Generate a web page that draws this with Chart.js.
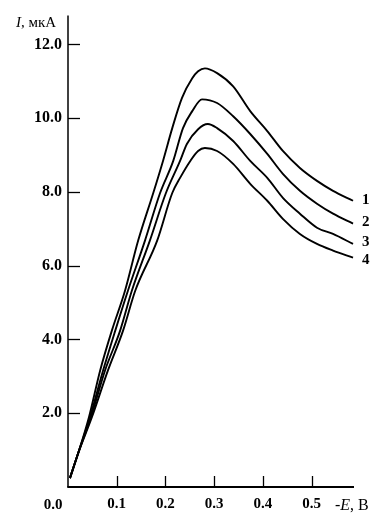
<!DOCTYPE html>
<html>
<head>
<meta charset="utf-8">
<script src="https://cdn.jsdelivr.net/npm/chart.js@4.4.1/dist/chart.umd.min.js"></script>
<style>
  html, body { margin: 0; padding: 0; background: #fff; }
  #wrap { width: 386px; height: 516px; position: relative; }
</style>
</head>
<body>
<div id="wrap"><canvas id="chart"></canvas></div>
<script>
// Potential -E (V) and current I (uA) for each curve
const E1 = [0.004, 0.021, 0.043, 0.066, 0.090, 0.117, 0.144, 0.175, 0.195, 0.214, 0.234, 0.255, 0.267, 0.281, 0.306, 0.339, 0.374, 0.409, 0.441, 0.476, 0.511, 0.544, 0.585];
const I1 = [0.24, 0.92, 1.89, 3.16, 4.24, 5.32, 6.68, 7.97, 8.84, 9.73, 10.55, 11.08, 11.27, 11.35, 11.22, 10.86, 10.19, 9.65, 9.11, 8.65, 8.30, 8.03, 7.76];

const E2 = [0.004, 0.021, 0.045, 0.072, 0.097, 0.123, 0.158, 0.189, 0.216, 0.236, 0.255, 0.275, 0.306, 0.339, 0.374, 0.409, 0.441, 0.476, 0.511, 0.544, 0.585];
const I2 = [0.24, 0.92, 1.89, 3.16, 4.24, 5.32, 6.68, 7.97, 8.84, 9.73, 10.19, 10.51, 10.41, 10.05, 9.57, 9.03, 8.49, 8.03, 7.68, 7.41, 7.14];

const E3 = [0.004, 0.021, 0.047, 0.076, 0.107, 0.131, 0.168, 0.201, 0.230, 0.244, 0.267, 0.287, 0.306, 0.339, 0.374, 0.409, 0.441, 0.476, 0.511, 0.544, 0.585];
const I3 = [0.24, 0.92, 1.89, 3.16, 4.24, 5.32, 6.68, 7.97, 8.84, 9.30, 9.70, 9.84, 9.73, 9.38, 8.84, 8.38, 7.84, 7.41, 7.03, 6.86, 6.59];

const E4 = [0.004, 0.021, 0.049, 0.082, 0.113, 0.138, 0.183, 0.214, 0.230, 0.251, 0.267, 0.281, 0.306, 0.339, 0.374, 0.409, 0.441, 0.476, 0.511, 0.544, 0.585];
const I4 = [0.24, 0.92, 1.89, 3.16, 4.24, 5.32, 6.68, 7.97, 8.38, 8.84, 9.11, 9.19, 9.11, 8.76, 8.22, 7.76, 7.27, 6.86, 6.59, 6.41, 6.22];

const curveNames = ['1', '2', '3', '4'];
const xTicks = [0.1, 0.2, 0.3, 0.4, 0.5];
const yTicks = [2, 4, 6, 8, 10, 12];

const serif = '"Liberation Serif", "Times New Roman", serif';

function toPoints(xs, ys) {
  return xs.map((x, i) => ({ x: x, y: ys[i] }));
}

function makeSet(xs, ys) {
  return {
    data: toPoints(xs, ys),
    borderColor: '#000',
    borderWidth: 1.9,
    pointRadius: 0,
    fill: false,
    cubicInterpolationMode: 'monotone'
  };
}

// axis lines, inward tick marks and the extra texts
const axesPlugin = {
  id: 'axesPlugin',
  afterDraw(chart) {
    const ctx = chart.ctx;
    const a = chart.chartArea;
    const x = chart.scales.x;
    const y = chart.scales.y;

    function seg(x1, y1, x2, y2, w) {
      ctx.lineWidth = w;
      ctx.beginPath();
      ctx.moveTo(x1, y1);
      ctx.lineTo(x2, y2);
      ctx.stroke();
    }

    ctx.save();
    ctx.strokeStyle = '#000';
    ctx.fillStyle = '#000';

    seg(a.left, a.top, a.left, a.bottom, 1.5);
    seg(a.left - 0.75, a.bottom, a.right, a.bottom, 2);

    yTicks.forEach(v => {
      const py = Math.round(y.getPixelForValue(v)) + 0.5;
      seg(a.left, py, a.left + 12, py, 1.3);
    });
    xTicks.forEach(v => {
      const px = Math.round(x.getPixelForValue(v)) + 0.5;
      seg(px, a.bottom, px, a.bottom - 11, 1.3);
    });

    // origin label
    ctx.font = 'bold 15px ' + serif;
    ctx.textAlign = 'center';
    ctx.textBaseline = 'middle';
    ctx.fillText('0.0', a.left - 15, 505);

    // y axis title: I, мкА
    ctx.textAlign = 'left';
    ctx.textBaseline = 'alphabetic';
    let tx = 16;
    ctx.font = 'italic 15px ' + serif;
    ctx.fillText('I', tx, 27);
    tx += ctx.measureText('I').width;
    ctx.font = '15px ' + serif;
    ctx.fillText(', мкА', tx, 27);

    // x axis title: -E, B
    tx = 335;
    ctx.font = '16px ' + serif;
    ctx.fillText('-', tx, 510);
    tx += ctx.measureText('-').width;
    ctx.font = 'italic 16px ' + serif;
    ctx.fillText('E', tx, 510);
    tx += ctx.measureText('E').width;
    ctx.font = '16px ' + serif;
    ctx.fillText(', B', tx, 510);

    // curve numbers at the right ends
    ctx.font = 'bold 15px ' + serif;
    ctx.textBaseline = 'middle';
    const dy = [-1, -2, -2, 3];
    chart.data.datasets.forEach((ds, i) => {
      const pts = chart.getDatasetMeta(i).data;
      const last = pts[pts.length - 1];
      ctx.fillText(curveNames[i], last.x + 9, last.y + dy[i]);
    });

    ctx.restore();
  }
};

new Chart(document.getElementById('chart'), {
  type: 'line',
  data: {
    datasets: [makeSet(E1, I1), makeSet(E2, I2), makeSet(E3, I3), makeSet(E4, I4)]
  },
  plugins: [axesPlugin],
  options: {
    responsive: true,
    maintainAspectRatio: false,
    animation: false,
    layout: { padding: { top: 14, right: 32, left: 0, bottom: 0 } },
    plugins: {
      legend: { display: false },
      tooltip: { enabled: false }
    },
    scales: {
      x: {
        type: 'linear',
        min: 0,
        max: 0.587,
        grid: { display: false, drawTicks: false },
        border: { display: false },
        afterBuildTicks: s => { s.ticks = xTicks.map(v => ({ value: v })); },
        afterFit: s => { s.height = 29; },
        ticks: {
          padding: 8,
          color: '#000',
          font: { family: serif, size: 15, weight: 'bold' },
          callback: v => v.toFixed(1)
        }
      },
      y: {
        type: 'linear',
        min: 0,
        max: 12.78,
        grid: { display: false, drawTicks: false },
        border: { display: false },
        afterBuildTicks: s => { s.ticks = yTicks.map(v => ({ value: v })); },
        afterFit: s => { s.width = 68; },
        ticks: {
          padding: 6,
          color: '#000',
          font: { family: serif, size: 16, weight: 'bold' },
          callback: v => v.toFixed(1)
        }
      }
    }
  }
});
</script>
</body>
</html>
